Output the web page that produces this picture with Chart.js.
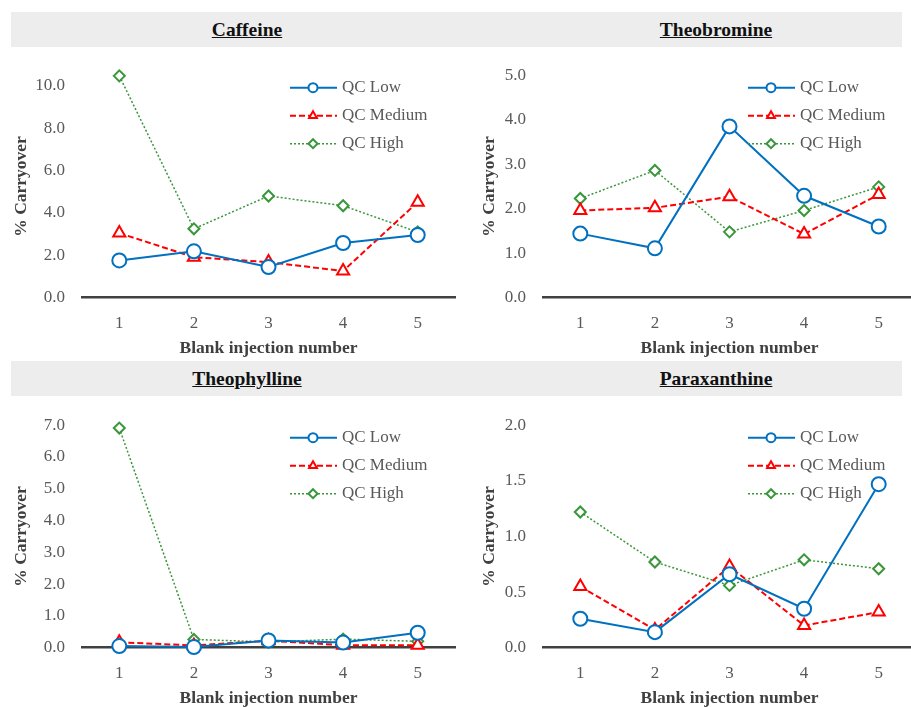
<!DOCTYPE html>
<html>
<head>
<meta charset="utf-8">
<script src="https://cdn.jsdelivr.net/npm/chart.js@4.4.1/dist/chart.umd.min.js"></script>
<style>
  body { margin: 0; width: 911px; height: 707px; overflow: hidden; background: #fff; position: relative; }
  .band { position: absolute; left: 11px; width: 891px; height: 35px; background: #ededed; }
  .ttl { position: absolute; transform: translateX(-50%); top: 0;
         font: bold 19.5px "Palatino Linotype", "Book Antiqua", "Liberation Serif", serif;
         line-height: 35px; text-decoration: underline; color: #111; white-space: nowrap; }
  .panel { position: absolute; width: 464px; height: 312px; }
</style>
</head>
<body>
<div class="band" style="top:12px">
  <span class="ttl" style="left:236px">Caffeine</span>
  <span class="ttl" style="left:705px">Theobromine</span>
</div>
<div class="band" style="top:361px">
  <span class="ttl" style="left:236px">Theophylline</span>
  <span class="ttl" style="left:705px">Paraxanthine</span>
</div>
<div class="panel" style="left:0;top:48px"><canvas id="caffeine"></canvas></div>
<div class="panel" style="left:461px;top:48px"><canvas id="theobromine"></canvas></div>
<div class="panel" style="left:0;top:398px"><canvas id="theophylline"></canvas></div>
<div class="panel" style="left:461px;top:398px"><canvas id="paraxanthine"></canvas></div>

<script>
// Données
const injections = ['1', '2', '3', '4', '5'];
const seriesNames = ['QC Low', 'QC Medium', 'QC High'];

const caffeineLow  = [1.76, 2.19, 1.45, 2.58, 2.96];
const caffeineMed  = [3.05, 1.91, 1.68, 1.26, 4.51];
const caffeineHigh = [10.47, 3.25, 4.80, 4.34, 3.10];
const caffeineTicks = [0, 2, 4, 6, 8, 10];

const theobromineLow  = [1.44, 1.11, 3.85, 2.29, 1.60];
const theobromineMed  = [1.96, 2.02, 2.27, 1.43, 2.32];
const theobromineHigh = [2.23, 2.86, 1.48, 1.96, 2.49];
const theobromineTicks = [0, 1, 2, 3, 4, 5];

const theophyllineLow  = [0.05, 0.02, 0.23, 0.16, 0.47];
const theophyllineMed  = [0.17, 0.07, 0.22, 0.08, 0.08];
const theophyllineHigh = [6.91, 0.26, 0.18, 0.27, 0.20];
const theophyllineTicks = [0, 1, 2, 3, 4, 5, 6, 7];

const paraxanthineLow  = [0.26, 0.14, 0.66, 0.35, 1.47];
const paraxanthineMed  = [0.55, 0.16, 0.73, 0.20, 0.32];
const paraxanthineHigh = [1.22, 0.77, 0.56, 0.79, 0.71];
const paraxanthineTicks = [0, 0.5, 1.0, 1.5, 2.0];

const FONT = '"Palatino Linotype", "Book Antiqua", "Liberation Serif", serif';
const BLUE = '#0070c0', RED = '#ff0000', GREEN = '#3a963a';

// Légende dessinée à l'intérieur de la zone du graphique
const insideLegend = {
    id: 'insideLegend',
    afterDraw(chart) {
        const { ctx, chartArea } = chart;
        const shift = chart.options.legendShift || 165;
        chart.data.datasets.forEach((ds, i) => {
            const y = chartArea.top + 12.5 + i * 28;
            const x0 = chartArea.right - shift;
            ctx.save();
            ctx.strokeStyle = ds.borderColor;
            ctx.lineWidth = ds.borderWidth;
            ctx.setLineDash(ds.borderDash || []);
            ctx.beginPath();
            ctx.moveTo(x0, y);
            ctx.lineTo(x0 + 47, y);
            ctx.stroke();
            ctx.setLineDash([]);
            ctx.fillStyle = '#fff';
            ctx.lineWidth = 2;
            Chart.helpers.drawPoint(ctx, { pointStyle: ds.pointStyle, radius: 4.5, rotation: 0, borderWidth: 2 }, x0 + 23, y);
            ctx.fillStyle = '#595959';
            ctx.font = '17px ' + FONT;
            ctx.textBaseline = 'middle';
            ctx.textAlign = 'left';
            ctx.fillText(ds.label, x0 + 52, y);
            ctx.restore();
        });
    }
};

function makeChart(id, low, med, high, ticks, yTitlePad, legendShift) {
    const maxV = ticks[ticks.length - 1];
    const topV = Math.max(maxV, ...low, ...med, ...high);
    new Chart(document.getElementById(id), {
        type: 'line',
        data: {
            labels: injections,
            datasets: [
                { label: seriesNames[0], data: low, borderColor: BLUE, borderWidth: 2,
                  pointStyle: 'circle', pointRadius: 7, pointBorderWidth: 2,
                  pointBackgroundColor: '#fff', pointBorderColor: BLUE, clip: false },
                { label: seriesNames[1], data: med, borderColor: RED, borderWidth: 2, borderDash: [6, 3],
                  pointStyle: 'triangle', pointRadius: 7, pointBorderWidth: 2,
                  pointBackgroundColor: '#fff', pointBorderColor: RED, clip: false },
                { label: seriesNames[2], data: high, borderColor: GREEN, borderWidth: 1.5, borderDash: [2, 2],
                  pointStyle: 'rectRot', pointRadius: 5.5, pointBorderWidth: 2,
                  pointBackgroundColor: '#fff', pointBorderColor: GREEN, clip: false }
            ]
        },
        options: {
            responsive: false,
            animation: false,
            devicePixelRatio: 1,
            legendShift: legendShift,
            layout: { padding: { top: 24.5, right: 1, left: 0, bottom: 0 } },
            plugins: { legend: { display: false }, tooltip: { enabled: false } },
            scales: {
                x: {
                    offset: true,
                    grid: { display: false, drawTicks: false },
                    border: { display: true, color: '#404040', width: 2.5 },
                    ticks: { color: '#595959', padding: 16, font: { family: FONT, size: 17 } },
                    title: { display: true, text: 'Blank injection number', color: '#404040',
                             padding: { top: 0, bottom: 1 }, font: { family: FONT, size: 17.5, weight: 'bold' } },
                    afterFit: s => { s.height = 62.3; }
                },
                y: {
                    min: 0,
                    max: topV > maxV ? Math.ceil(topV * 20) / 20 : maxV,
                    grid: { display: false, drawTicks: false },
                    border: { display: false },
                    ticks: { color: '#595959', padding: 17, font: { family: FONT, size: 17 },
                             callback: v => Number(v).toFixed(1) },
                    afterBuildTicks: s => { s.ticks = ticks.map(v => ({ value: v })); },
                    title: { display: true, text: '% Carryover', color: '#404040',
                             padding: { top: yTitlePad, bottom: 0 }, font: { family: FONT, size: 17.5, weight: 'bold' } },
                    afterFit: s => { s.width = 82; }
                }
            }
        },
        plugins: [insideLegend]
    });
}

document.querySelectorAll('canvas').forEach(c => { c.width = 464; c.height = 312; });
makeChart('caffeine', caffeineLow, caffeineMed, caffeineHigh, caffeineTicks, 11, 165);
makeChart('theobromine', theobromineLow, theobromineMed, theobromineHigh, theobromineTicks, 18, 168);
makeChart('theophylline', theophyllineLow, theophyllineMed, theophyllineHigh, theophyllineTicks, 11, 165);
makeChart('paraxanthine', paraxanthineLow, paraxanthineMed, paraxanthineHigh, paraxanthineTicks, 18, 168);
</script>
</body>
</html>
